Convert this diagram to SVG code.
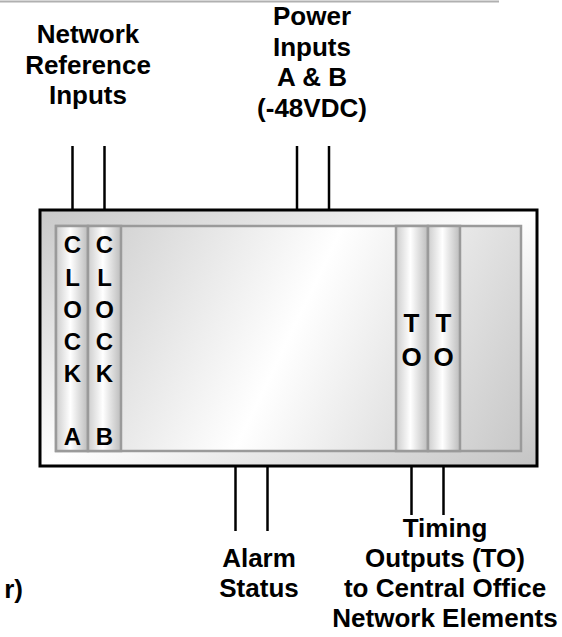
<svg xmlns="http://www.w3.org/2000/svg" width="562" height="637" viewBox="0 0 562 637">
<style>
.lbl{font-family:"Liberation Sans",Arial,sans-serif;font-weight:bold;font-size:26px;fill:#000;text-anchor:middle}
.card{font-family:"Liberation Sans",Arial,sans-serif;font-weight:bold;font-size:24px;fill:#000;text-anchor:middle}
.to{font-size:26px}
.wire{stroke:#000;stroke-width:2.5;fill:none}
.slot{stroke:#9a9a9a;stroke-width:2.5}
</style>
<defs>
<linearGradient id="gOuter" x1="0" y1="0" x2="1" y2="1">
<stop offset="0" stop-color="#c8c8c8"/>
<stop offset="0.5" stop-color="#ffffff"/>
<stop offset="1" stop-color="#c4c4c4"/>
</linearGradient>
<linearGradient id="gInner" gradientUnits="userSpaceOnUse" x1="56" y1="226" x2="521" y2="451">
<stop offset="0" stop-color="#c8c8c8"/>
<stop offset="0.5" stop-color="#ffffff"/>
<stop offset="1" stop-color="#c8c8c8"/>
</linearGradient>
<linearGradient id="gCard" x1="0" y1="0" x2="1" y2="0">
<stop offset="0" stop-color="#cdcdcd"/>
<stop offset="0.45" stop-color="#ffffff"/>
<stop offset="1" stop-color="#bcbcbc"/>
</linearGradient>
</defs>
<rect x="0" y="0" width="562" height="637" fill="#fff"/>
<line x1="0" y1="1.5" x2="499" y2="1.5" stroke="#b0b0b0" stroke-width="2"/>

<g id="connectors">
<line class="wire" x1="72.5" y1="146" x2="72.5" y2="210"/>
<line class="wire" x1="104.5" y1="146" x2="104.5" y2="210"/>
<line class="wire" x1="297" y1="146" x2="297" y2="210"/>
<line class="wire" x1="329" y1="146" x2="329" y2="210"/>
<line class="wire" x1="235.5" y1="466" x2="235.5" y2="531"/>
<line class="wire" x1="267.5" y1="466" x2="267.5" y2="531"/>
<line class="wire" x1="411.5" y1="451" x2="411.5" y2="515"/>
<line class="wire" x1="443.5" y1="451" x2="443.5" y2="515"/>
</g>

<g id="chassis">
<rect x="40" y="210" width="497" height="256" fill="url(#gOuter)" stroke="#000" stroke-width="3"/>
<rect x="56" y="226" width="465" height="225" fill="url(#gInner)" class="slot"/>
</g>

<g id="clockA">
<rect x="56" y="226" width="32" height="225" fill="url(#gCard)" class="slot"/>
<text class="card" x="72.5" y="253">C</text>
<text class="card" x="72.5" y="286">L</text>
<text class="card" x="72.5" y="318">O</text>
<text class="card" x="72.5" y="350">C</text>
<text class="card" x="72.5" y="382">K</text>
<text class="card" x="72.5" y="445">A</text>
</g>
<g id="clockB">
<rect x="88" y="226" width="33" height="225" fill="url(#gCard)" class="slot"/>
<text class="card" x="104.5" y="253">C</text>
<text class="card" x="104.5" y="286">L</text>
<text class="card" x="104.5" y="318">O</text>
<text class="card" x="104.5" y="350">C</text>
<text class="card" x="104.5" y="382">K</text>
<text class="card" x="104.5" y="445">B</text>
</g>
<g id="to1">
<rect x="396" y="226" width="32" height="225" fill="url(#gCard)" class="slot"/>
<text class="card to" x="411.5" y="332">T</text>
<text class="card to" x="411.5" y="366">O</text>
</g>
<g id="to2">
<rect x="428" y="226" width="32" height="225" fill="url(#gCard)" class="slot"/>
<text class="card to" x="443.5" y="332">T</text>
<text class="card to" x="443.5" y="366">O</text>
</g>

<g id="netref">
<text class="lbl" x="88" y="43">Network</text>
<text class="lbl" x="88" y="73.5">Reference</text>
<text class="lbl" x="88" y="104">Inputs</text>
</g>
<g id="power">
<text class="lbl" x="312" y="25">Power</text>
<text class="lbl" x="312" y="55.5">Inputs</text>
<text class="lbl" x="312" y="86">A &amp; B</text>
<text class="lbl" x="312" y="116.5">(-48VDC)</text>
</g>
<g id="alarm">
<text class="lbl" x="259" y="567">Alarm</text>
<text class="lbl" x="259" y="597">Status</text>
</g>
<g id="timing">
<text class="lbl" x="445" y="537">Timing</text>
<text class="lbl" x="445" y="567">Outputs (TO)</text>
<text class="lbl" x="445" y="597">to Central Office</text>
<text class="lbl" x="445" y="627">Network Elements</text>
</g>
<text class="lbl" x="23" y="598" style="text-anchor:end">r)</text>
</svg>
